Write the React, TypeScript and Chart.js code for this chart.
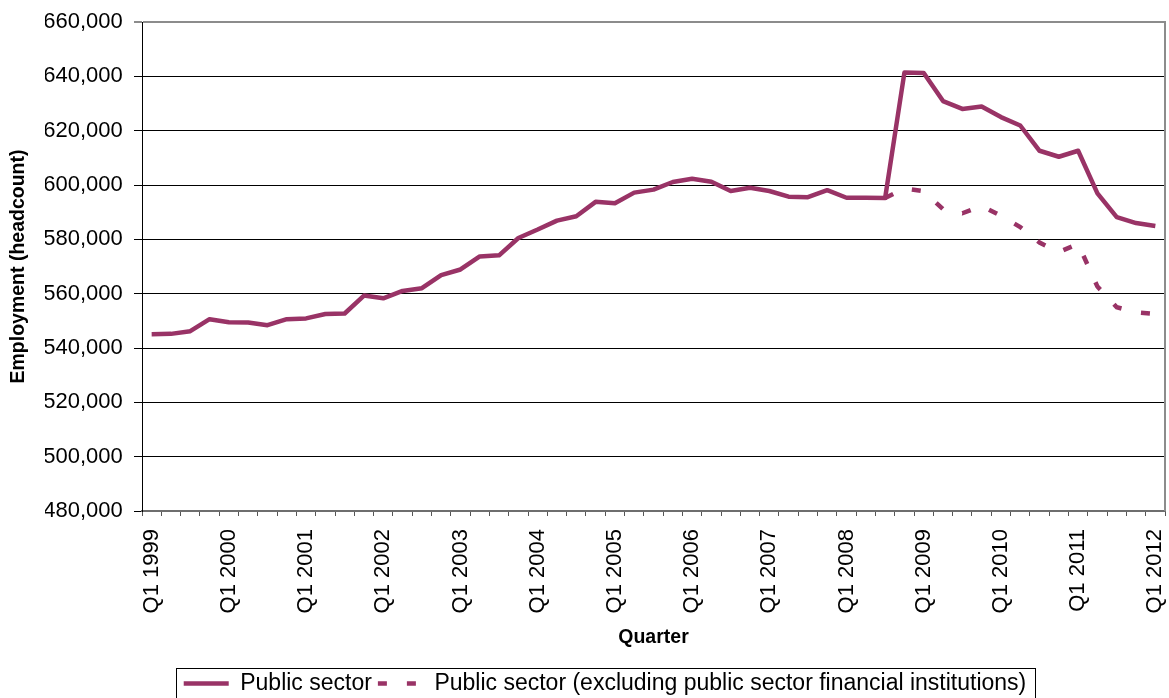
import React, { useEffect, useRef } from "react";
import { Chart, registerables } from "chart.js";

Chart.register(...registerables);

const QUARTERS = [
  "Q1 1999", "Q2 1999", "Q3 1999", "Q4 1999",
  "Q1 2000", "Q2 2000", "Q3 2000", "Q4 2000",
  "Q1 2001", "Q2 2001", "Q3 2001", "Q4 2001",
  "Q1 2002", "Q2 2002", "Q3 2002", "Q4 2002",
  "Q1 2003", "Q2 2003", "Q3 2003", "Q4 2003",
  "Q1 2004", "Q2 2004", "Q3 2004", "Q4 2004",
  "Q1 2005", "Q2 2005", "Q3 2005", "Q4 2005",
  "Q1 2006", "Q2 2006", "Q3 2006", "Q4 2006",
  "Q1 2007", "Q2 2007", "Q3 2007", "Q4 2007",
  "Q1 2008", "Q2 2008", "Q3 2008", "Q4 2008",
  "Q1 2009", "Q2 2009", "Q3 2009", "Q4 2009",
  "Q1 2010", "Q2 2010", "Q3 2010", "Q4 2010",
  "Q1 2011", "Q2 2011", "Q3 2011", "Q4 2011",
  "Q1 2012",
];

const PUBLIC_SECTOR = [
  545100, 545200, 546200, 550600,
  549500, 549400, 548400, 550600,
  550900, 552500, 552700, 559300,
  558300, 561000, 562000, 566800,
  568900, 573700, 574100, 580500,
  583600, 586900, 588500, 593800,
  593300, 597200, 598300, 601100,
  602300, 601200, 597800, 599000,
  597800, 595700, 595500, 598100,
  595300, 595300, 595200, 641400,
  641200, 630900, 628000, 628900,
  625000, 621900, 612600, 610400,
  612600, 596900, 588200, 586000,
  584900,
];

const PUBLIC_SECTOR_EXCL_FIN = [
  null, null, null, null,
  null, null, null, null,
  null, null, null, null,
  null, null, null, null,
  null, null, null, null,
  null, null, null, null,
  null, null, null, null,
  null, null, null, null,
  null, null, null, null,
  null, null, 595200, 598700,
  597700, 591100, 589600, 592300,
  588700, 584500, 578800, 575300,
  578300, 562600, 555000, 553100,
  552500,
];

const SERIES_NAMES = [
  "Public sector",
  "Public sector (excluding public sector financial institutions)",
];
const X_TITLE = "Quarter";
const Y_TITLE = "Employment (headcount)";
const Y_MIN = 480000;
const Y_MAX = 660000;
const Y_STEP = 20000;
const LABEL_EVERY = 4;

const W = 1169;
const H = 705;
const PAD_L = 45;
const FONT = "'Liberation Sans', Arial, Helvetica, sans-serif";
const COLOR = "#993366";
const LINE_W = 4.5;
const DASH = [9, 20];

const legendBoxPlugin = {
  id: "legendBox",
  afterDraw(chart: any) {
    const lg = chart.legend;
    if (!lg || !lg.legendHitBoxes || !lg.legendHitBoxes.length) return;
    const hb = lg.legendHitBoxes;
    const left = Math.round(hb[0].left - 7.5) + 0.5;
    const last = hb[hb.length - 1];
    const right = Math.round(last.left + last.width + 8.5) + 0.5;
    const ctx = chart.ctx;
    ctx.save();
    ctx.strokeStyle = "#000";
    ctx.lineWidth = 1;
    ctx.strokeRect(left, 668.5, right - left, 40);
    ctx.restore();
  },
};

const plotBorderPlugin = {
  id: "plotBorder",
  beforeDatasetsDraw(chart: any) {
    const { ctx, chartArea } = chart;
    ctx.save();
    ctx.strokeStyle = "#8c8c8c";
    ctx.lineWidth = 2;
    ctx.beginPath();
    ctx.moveTo(chartArea.right, chartArea.top - 1);
    ctx.lineTo(chartArea.right, chartArea.bottom);
    ctx.stroke();
    ctx.restore();
  },
};

export default function App() {
  const ref = useRef<HTMLCanvasElement | null>(null);

  useEffect(() => {
    if (!ref.current) return;
    const chart = new Chart(ref.current, {
      type: "line",
      data: {
        labels: QUARTERS,
        datasets: [
          {
            label: SERIES_NAMES[0],
            data: PUBLIC_SECTOR,
            borderColor: COLOR,
            backgroundColor: COLOR,
            borderWidth: LINE_W,
            pointRadius: 0,
            pointHoverRadius: 0,
            tension: 0,
            borderJoinStyle: "round",
            fill: false,
          },
          {
            label: SERIES_NAMES[1],
            data: PUBLIC_SECTOR_EXCL_FIN,
            borderColor: COLOR,
            backgroundColor: COLOR,
            borderWidth: LINE_W,
            borderDash: DASH,
            pointRadius: 0,
            pointHoverRadius: 0,
            tension: 0,
            fill: false,
            spanGaps: false,
          },
        ],
      },
      options: {
        responsive: false,
        animation: false,
        devicePixelRatio: 1,
        layout: { padding: { left: PAD_L, right: 4, top: 22, bottom: 0 } },
        plugins: {
          tooltip: { enabled: false },
          legend: {
            position: "bottom",
            labels: {
              usePointStyle: true,
              pointStyle: "line",
              pointStyleWidth: 45,
              padding: 6,
              color: "#000",
              font: { family: FONT, size: 23 },
              generateLabels: (c: any) => {
                const items = (Chart as any).defaults.plugins.legend.labels.generateLabels(c);
                items.forEach((it: any, i: number) => {
                  const ds = c.data.datasets[i];
                  it.lineDash = ds.borderDash || [];
                  it.lineWidth = LINE_W;
                  it.strokeStyle = COLOR;
                  it.fillStyle = COLOR;
                  it.pointStyle = "line";
                });
                return items;
              },
            },
          },
        },
        scales: {
          x: {
            type: "category",
            offset: true,
            grid: {
              offset: true,
              drawOnChartArea: false,
              drawTicks: true,
              tickLength: 5,
              color: "#555",
            },
            border: { color: "#6e6e6e", width: 2 },
            ticks: {
              autoSkip: false,
              maxRotation: 90,
              minRotation: 90,
              padding: 13,
              color: "#000",
              font: { family: FONT, size: 22 },
              callback: (_v: any, i: number) =>
                i % LABEL_EVERY === 0 ? QUARTERS[i] : "",
            },
            title: {
              display: true,
              text: X_TITLE,
              color: "#000",
              font: { family: FONT, size: 19.5, weight: "bold", lineHeight: 1.2 },
              padding: { top: 0, bottom: 16.3 },
            },
            afterFit: (scale: any) => {
              scale.height = 155;
              scale.paddingLeft = 0;
              scale.paddingRight = 0;
            },
          },
          y: {
            min: Y_MIN,
            max: Y_MAX,
            grid: {
              color: (c: any) => (c.tick && c.tick.value === Y_MAX ? "#8c8c8c" : "#000"),
              lineWidth: (c: any) => (c.tick && c.tick.value === Y_MAX ? 2 : 1),
              tickLength: 8,
            },
            border: { color: "#000", width: 1 },
            ticks: {
              stepSize: Y_STEP,
              padding: 11.3,
              color: "#000",
              font: { family: FONT, size: 22 },
              callback: (v: any) => Number(v).toLocaleString("en-US"),
            },
            title: {
              display: true,
              text: Y_TITLE,
              color: "#000",
              font: { family: FONT, size: 19.5, weight: "bold", lineHeight: 1.2 },
              padding: { top: 19 - PAD_L - 11.7, bottom: 0 },
            },
            afterFit: (scale: any) => {
              scale.width = 142 - PAD_L;
              scale.paddingTop = 0;
              scale.paddingBottom = 0;
            },
          },
        },
      },
      plugins: [legendBoxPlugin, plotBorderPlugin],
    } as any);
    return () => chart.destroy();
  }, []);

  return (
    <div
      style={{
        position: "fixed",
        left: 0,
        top: 0,
        width: W,
        height: H,
        background: "#fff",
      }}
    >
      <canvas ref={ref} width={W} height={H} style={{ width: W, height: H, display: "block" }} />
    </div>
  );
}
